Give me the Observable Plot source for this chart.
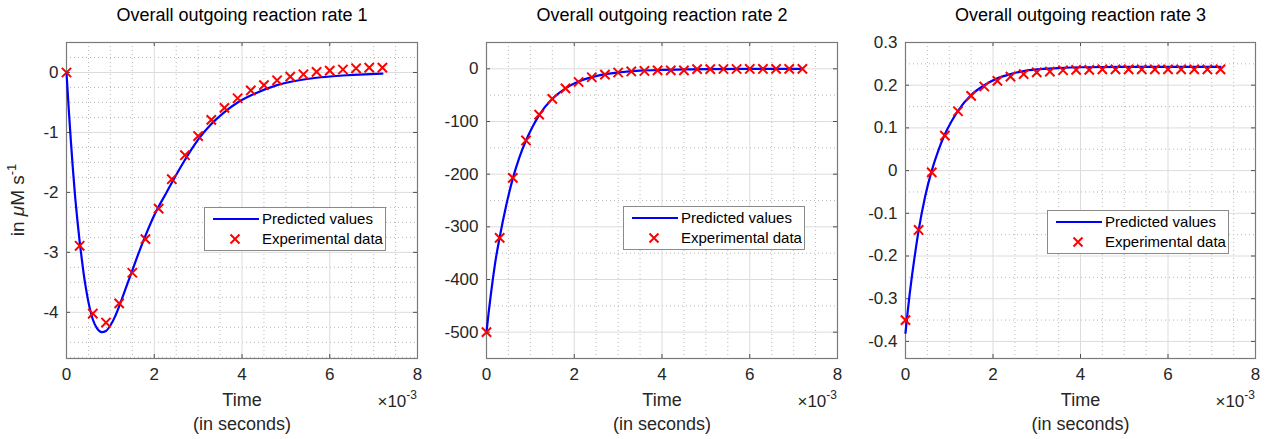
<!DOCTYPE html>
<html>
<head>
<meta charset="utf-8">
<script src="https://cdn.jsdelivr.net/npm/d3@7"></script>
<script src="https://cdn.jsdelivr.net/npm/@observablehq/plot@0.6"></script>
<style>
  html, body { margin: 0; padding: 0; background: #fff; }
  #root { position: relative; width: 1275px; height: 439px; overflow: hidden; background: #fff;
          font-family: "Liberation Sans", Arial, Helvetica, sans-serif; }
  .panel { position: absolute; top: 0; }
  .legend { position: absolute; background: #fff; border: 1px solid #8a8a8a; box-sizing: border-box;
            font-size: 15px; color: #000; width: 182px; height: 44px; }
  .legend .row { position: absolute; left: 0; right: 0; height: 20px; line-height: 20px; }
  .legend .sw { position: absolute; left: 8px; top: 0; width: 46px; height: 20px; }
  .legend .lab { position: absolute; left: 57px; top: 0; white-space: nowrap; }
</style>
</head>
<body>
<div id="root"></div>
<script>
// ---------- data (time in units of 10^-3 s) ----------
const titles = ["Overall outgoing reaction rate 1", "Overall outgoing reaction rate 2", "Overall outgoing reaction rate 3"];
const xLabel = "Time\n(in seconds)";
const yLabel1 = ["in ", "\u03bc", "M s", "-1"];
const xTicks = [0, 2, 4, 6, 8];
const yTicks1 = [-4, -3, -2, -1, 0];
const yTicks2 = [-500, -400, -300, -200, -100, 0];
const yTicks3 = [-0.4, -0.3, -0.2, -0.1, 0, 0.1, 0.2, 0.3];
const legendLabels = ["Predicted values", "Experimental data"];

const expTime = [0, 0.3, 0.6, 0.9, 1.2, 1.5, 1.8, 2.1, 2.4, 2.7, 3.0, 3.3, 3.6, 3.9, 4.2, 4.5, 4.8, 5.1, 5.4, 5.7, 6.0, 6.3, 6.6, 6.9, 7.2];
const exp1 = [0, -2.89, -4.02, -4.17, -3.85, -3.34, -2.78, -2.27, -1.78, -1.38, -1.06, -0.79, -0.59, -0.43, -0.30, -0.21, -0.13, -0.07, -0.03, 0.01, 0.03, 0.05, 0.07, 0.08, 0.08];
const exp2 = [-500, -321, -207, -136, -87, -57, -37, -25, -16, -11, -7, -5, -4, -3, -3, -3, -0.5, -0.5, -0.3, -0.3, -0.2, -0.2, -0.1, -0.1, -0.1];
const exp3 = [-0.35, -0.139, -0.004, 0.082, 0.139, 0.175, 0.197, 0.21, 0.22, 0.226, 0.23, 0.232, 0.235, 0.236, 0.236, 0.237, 0.237, 0.237, 0.237, 0.237, 0.237, 0.237, 0.237, 0.237, 0.237];

const predTime1 = [0, 0.05, 0.1, 0.15, 0.2, 0.25, 0.3, 0.35, 0.4, 0.45, 0.5, 0.55, 0.6, 0.7, 0.8, 0.9, 1.0, 1.1, 1.2, 1.35, 1.5, 1.65, 1.8, 2.0, 2.28, 2.6, 3.0, 3.3, 3.6, 3.9, 4.3, 4.8, 5.3, 5.8, 6.3, 6.8, 7.2];
const pred1 = [0, -0.6, -1.15, -1.65, -2.1, -2.48, -2.82, -3.12, -3.4, -3.63, -3.83, -3.99, -4.12, -4.27, -4.33, -4.31, -4.22, -4.08, -3.9, -3.6, -3.3, -3.0, -2.72, -2.38, -2.0, -1.58, -1.12, -0.86, -0.66, -0.5, -0.35, -0.21, -0.13, -0.08, -0.05, -0.03, -0.02];

const predTime2 = [0, 0.05, 0.1, 0.15, 0.2, 0.3, 0.45, 0.6, 0.75, 0.9, 1.05, 1.2, 1.5, 1.8, 2.1, 2.4, 2.7, 3.0, 3.5, 4.0, 4.5, 5.0, 6.0, 7.2];
const pred2 = [-500, -462, -428, -396, -367, -320, -259, -208, -168, -136, -110, -88, -57, -37, -24, -16, -10, -7, -3.5, -2, -1.2, -0.7, -0.25, -0.1];

const predTime3 = [0, 0.05, 0.1, 0.15, 0.2, 0.3, 0.45, 0.6, 0.75, 0.9, 1.05, 1.2, 1.5, 1.8, 2.1, 2.4, 2.7, 3.0, 3.5, 4.0, 5.0, 6.0, 7.2];
const pred3 = [-0.38, -0.33, -0.285, -0.245, -0.208, -0.14, -0.06, 0.0, 0.047, 0.085, 0.115, 0.14, 0.177, 0.2, 0.216, 0.226, 0.233, 0.237, 0.24, 0.242, 0.243, 0.243, 0.243];

// ---------- layout ----------
const W = 425, H = 439, MT = 42, MB = 81;
const FH = H - MT - MB;
const FONT = '"Liberation Sans", Arial, Helvetica, sans-serif';
const root = document.getElementById("root");

function minorVals(lo, hi, step, majors) {
  const out = [];
  for (let k = Math.ceil(lo / step - 1e-9); k * step <= hi + 1e-9; k++) {
    const v = +(k * step).toFixed(6);
    if (!majors.some(m => Math.abs(m - v) < 1e-9)) out.push(v);
  }
  return out;
}

function makePanel(cfg) {
  const pred = cfg.predT.map((t, i) => ({t, v: cfg.predV[i]}));
  const exp = expTime.map((t, i) => ({t, v: cfg.expV[i]}));
  const minorX = minorVals(0, 8, 0.5, xTicks);
  const minorY = minorVals(cfg.yDomain[0], cfg.yDomain[1], cfg.yMinor, cfg.yTicks);
  const fmt = d => String(d);
  const FW = W - cfg.ml - cfg.mr;
  const plot = Plot.plot({
    width: W, height: H, marginTop: MT, marginBottom: MB,
    marginLeft: cfg.ml, marginRight: cfg.mr,
    x: {domain: [0, 8]},
    y: {domain: cfg.yDomain},
    style: {fontFamily: FONT, fontSize: "17px", color: "#262626", background: "transparent", overflow: "visible"},
    marks: [
      Plot.gridX(minorX, {stroke: "#b8b8b8", strokeOpacity: 1, strokeDasharray: "1,3"}),
      Plot.gridY(minorY, {stroke: "#b8b8b8", strokeOpacity: 1, strokeDasharray: "1,3"}),
      Plot.gridX(xTicks, {stroke: "#dcdcdc", strokeOpacity: 1}),
      Plot.gridY(cfg.yTicks, {stroke: "#dcdcdc", strokeOpacity: 1}),
      Plot.tickX(xTicks, {x: d => d, insetTop: FH - 4, stroke: "#4d4d4d"}),
      Plot.tickX(xTicks, {x: d => d, insetBottom: FH - 4, stroke: "#4d4d4d"}),
      Plot.tickY(cfg.yTicks, {y: d => d, insetRight: FW - 4, stroke: "#4d4d4d"}),
      Plot.tickY(cfg.yTicks, {y: d => d, insetLeft: FW - 4, stroke: "#4d4d4d"}),
      Plot.frame({stroke: "#7a7a7a", strokeWidth: 1.2}),
      Plot.axisX(xTicks, {anchor: "bottom", tickSize: 0, tickPadding: 9, tickFormat: fmt, label: null, fontSize: 17, fill: "#262626"}),
      Plot.axisY(cfg.yTicks, {anchor: "left", tickSize: 0, tickPadding: 8, tickFormat: fmt, label: null, fontSize: 17, fill: "#262626"}),
      Plot.line(pred, {x: "t", y: "v", stroke: "#0000ff", strokeWidth: 2.2, curve: "monotone-x"}),
      Plot.dot(exp, {x: "t", y: "v", symbol: "times", r: 4.3, stroke: "#ff0000", strokeWidth: 2}),
      Plot.text([cfg.title], {text: d => d, frameAnchor: "top", lineAnchor: "middle", dy: -27, fontSize: 18, fill: "#000"}),
      Plot.text([xLabel], {text: d => d, frameAnchor: "bottom", lineAnchor: "middle", dy: 52, lineHeight: 1.33, fontSize: 18, fill: "#262626"})
    ]
  });
  const wrap = document.createElement("div");
  wrap.className = "panel";
  wrap.style.left = cfg.left + "px";
  wrap.appendChild(plot);
  root.appendChild(wrap);

  const svg = d3.select(plot.tagName.toLowerCase() === "svg" ? plot : plot.querySelector("svg"));
  // x10^-3 exponent label
  const ex = svg.append("text")
    .attr("x", W - cfg.mr).attr("y", 407)
    .attr("text-anchor", "end")
    .attr("font-family", FONT).attr("font-size", 17).attr("fill", "#262626");
  ex.append("tspan").text("\u00d710");
  ex.append("tspan").attr("font-size", 12).attr("dy", -8).text("-3");

  if (cfg.yLabel) {
    const yl = svg.append("text")
      .attr("transform", `translate(24,${MT + FH / 2}) rotate(-90)`)
      .attr("text-anchor", "middle")
      .attr("font-family", FONT).attr("font-size", 19).attr("fill", "#262626");
    yl.append("tspan").text(yLabel1[0]);
    yl.append("tspan").attr("font-style", "italic").text(yLabel1[1]);
    yl.append("tspan").text(yLabel1[2]);
    yl.append("tspan").attr("font-size", 13).attr("dy", -8).text(yLabel1[3]);
  }

  // legend
  const lg = document.createElement("div");
  lg.className = "legend";
  lg.style.left = cfg.legLeft + "px";
  lg.style.top = cfg.legTop + "px";
  lg.innerHTML =
    `<div class="row" style="top:1px"><svg class="sw" width="46" height="20"><line x1="0" x2="46" y1="10" y2="10" stroke="#0000ff" stroke-width="2.2"/></svg><span class="lab">${legendLabels[0]}</span></div>` +
    `<div class="row" style="top:21px"><svg class="sw" width="46" height="20"><path d="M17.5,5.5L26.5,14.5M26.5,5.5L17.5,14.5" stroke="#ff0000" stroke-width="2"/></svg><span class="lab">${legendLabels[1]}</span></div>`;
  root.appendChild(lg);
}

makePanel({left: 0, ml: 66, mr: 8, title: titles[0], predT: predTime1, predV: pred1, expV: exp1,
  yDomain: [-4.77, 0.5], yTicks: yTicks1, yMinor: 0.25, yLabel: true, legLeft: 204, legTop: 207});
makePanel({left: 425, ml: 61, mr: 13, title: titles[1], predT: predTime2, predV: pred2, expV: exp2,
  yDomain: [-550, 50], yTicks: yTicks2, yMinor: 50, yLabel: false, legLeft: 623, legTop: 206});
makePanel({left: 850, ml: 55, mr: 20, title: titles[2], predT: predTime3, predV: pred3, expV: exp3,
  yDomain: [-0.44, 0.3], yTicks: yTicks3, yMinor: 0.05, yLabel: false, legLeft: 1047, legTop: 210});
</script>
</body>
</html>
